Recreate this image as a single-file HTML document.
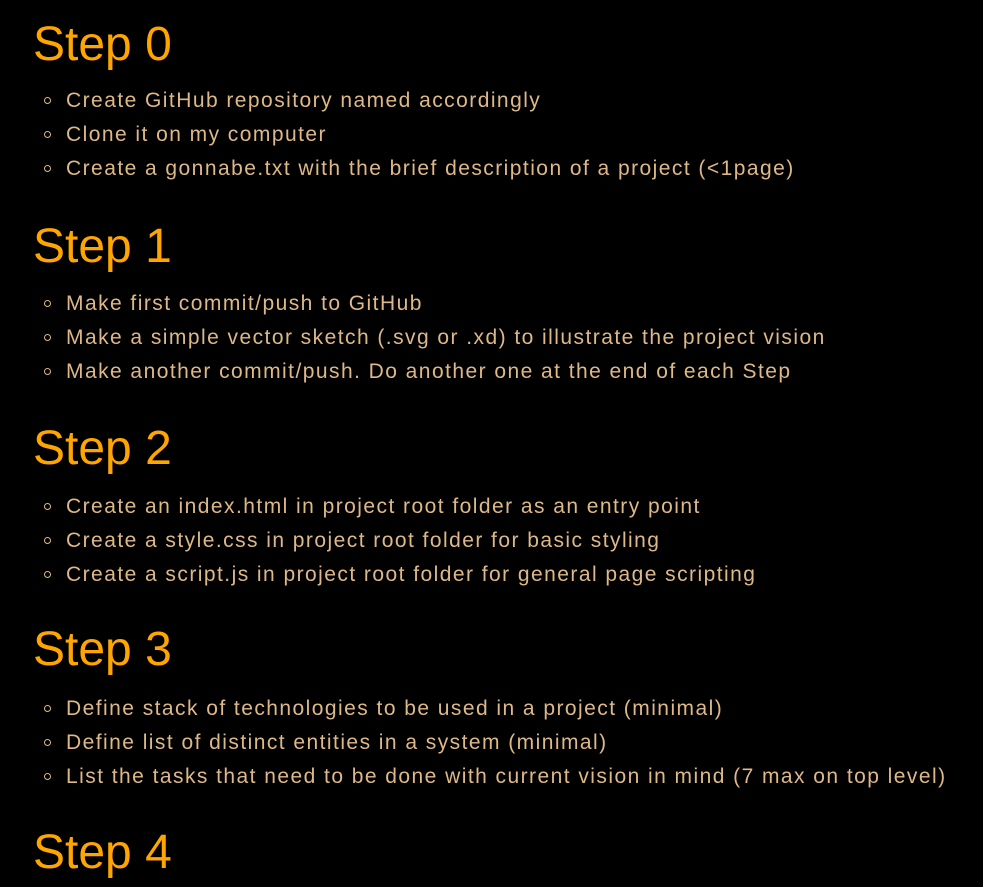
<!DOCTYPE html>
<html><head><meta charset="utf-8"><style>
html,body{margin:0;padding:0;background:#000;width:983px;height:887px;overflow:hidden;}
.h{position:absolute;left:33px;font:48px/48px "Liberation Sans",sans-serif;color:#ffa500;white-space:nowrap;}
.i{position:absolute;left:66px;font:21px/34px "Liberation Sans",sans-serif;color:#deb887;white-space:nowrap;letter-spacing:1.45px;}
.b{position:absolute;left:44px;width:5px;height:5px;border:1.5px solid #deb887;border-radius:50%;}
</style></head><body>
<div class="h" style="top:21px">Step 0</div>
<div class="b" style="top:97px"></div><div class="i" style="top:84px">Create GitHub repository named accordingly</div>
<div class="b" style="top:131px"></div><div class="i" style="top:118px">Clone it on my computer</div>
<div class="b" style="top:165px"></div><div class="i" style="top:152px">Create a gonnabe.txt with the brief description of a project (&lt;1page)</div>

<div class="h" style="top:223px">Step 1</div>
<div class="b" style="top:300px"></div><div class="i" style="top:287px">Make first commit/push to GitHub</div>
<div class="b" style="top:334px"></div><div class="i" style="top:321px">Make a simple vector sketch (.svg or .xd) to illustrate the project vision</div>
<div class="b" style="top:368px"></div><div class="i" style="top:355px">Make another commit/push. Do another one at the end of each Step</div>

<div class="h" style="top:425px">Step 2</div>
<div class="b" style="top:503px"></div><div class="i" style="top:490px">Create an index.html in project root folder as an entry point</div>
<div class="b" style="top:537px"></div><div class="i" style="top:524px">Create a style.css in project root folder for basic styling</div>
<div class="b" style="top:571px"></div><div class="i" style="top:558px">Create a script.js in project root folder for general page scripting</div>

<div class="h" style="top:626px">Step 3</div>
<div class="b" style="top:705px"></div><div class="i" style="top:692px">Define stack of technologies to be used in a project (minimal)</div>
<div class="b" style="top:739px"></div><div class="i" style="top:726px">Define list of distinct entities in a system (minimal)</div>
<div class="b" style="top:773px"></div><div class="i" style="top:760px">List the tasks that need to be done with current vision in mind (7 max on top level)</div>

<div class="h" style="top:829px">Step 4</div>
</body></html>
